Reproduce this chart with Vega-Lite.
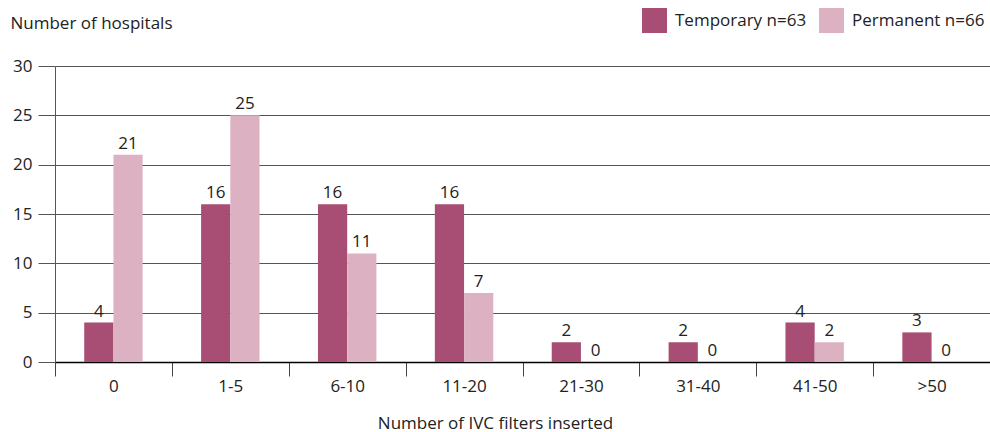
{
  "$schema": "https://vega.github.io/schema/vega-lite/v6.json",
  "width": 935,
  "height": 296,
  "autosize": {"type": "none"},
  "padding": {"left": 55, "top": 66, "right": 0, "bottom": 70},
  "background": "white",
  "config": {
    "font": "Open Sans",
    "view": {"stroke": null},
    "axis": {"labelFont": "Open Sans", "titleFont": "Open Sans", "labelColor": "#222", "titleColor": "#222", "labelFontSize": 17, "titleFontSize": 17, "titleFontWeight": "normal"}
  },
  "data": {
    "values": [
      {"cat": "0", "type": "Temporary n=63", "value": 4},
      {"cat": "0", "type": "Permanent n=66", "value": 21},
      {"cat": "1-5", "type": "Temporary n=63", "value": 16},
      {"cat": "1-5", "type": "Permanent n=66", "value": 25},
      {"cat": "6-10", "type": "Temporary n=63", "value": 16},
      {"cat": "6-10", "type": "Permanent n=66", "value": 11},
      {"cat": "11-20", "type": "Temporary n=63", "value": 16},
      {"cat": "11-20", "type": "Permanent n=66", "value": 7},
      {"cat": "21-30", "type": "Temporary n=63", "value": 2},
      {"cat": "21-30", "type": "Permanent n=66", "value": 0},
      {"cat": "31-40", "type": "Temporary n=63", "value": 2},
      {"cat": "31-40", "type": "Permanent n=66", "value": 0},
      {"cat": "41-50", "type": "Temporary n=63", "value": 4},
      {"cat": "41-50", "type": "Permanent n=66", "value": 2},
      {"cat": ">50", "type": "Temporary n=63", "value": 3},
      {"cat": ">50", "type": "Permanent n=66", "value": 0}
    ]
  },
  "encoding": {
    "x": {
      "field": "cat", "type": "nominal",
      "sort": ["0", "1-5", "6-10", "11-20", "21-30", "31-40", "41-50", ">50"],
      "scale": {"paddingInner": 0, "paddingOuter": 0},
      "axis": {
        "title": "Number of IVC filters inserted",
        "labelAngle": 0, "labelPadding": 2, "tickSize": 14, "tickBand": "extent",
        "tickColor": "#444", "domainColor": "#000", "domainWidth": 1.5,
        "titleBaseline": "alphabetic", "titleY": 66, "titleX": 440, "titleAnchor": "middle", "titleAlign": "center"
      }
    },
    "xOffset": {
      "field": "type", "type": "nominal",
      "sort": ["Temporary n=63", "Permanent n=66"],
      "scale": {"paddingInner": 0, "paddingOuter": 1.2}
    },
    "y": {
      "field": "value", "type": "quantitative",
      "scale": {"domain": [0, 30]},
      "axis": {
        "title": "Number of hospitals", "titleAngle": 0, "titleAlign": "left",
        "titleBaseline": "alphabetic", "titleX": -45, "titleY": -38,
        "values": [0, 5, 10, 15, 20, 25, 30], "tickSize": 17, "tickColor": "#555",
        "grid": true, "gridColor": "#555", "gridOpacity": 1, "domainColor": "#555",
        "labelPadding": 6
      }
    }
  },
  "layer": [
    {
      "mark": {"type": "bar"},
      "encoding": {
        "color": {
          "field": "type", "type": "nominal",
          "sort": ["Temporary n=63", "Permanent n=66"],
          "scale": {"domain": ["Temporary n=63", "Permanent n=66"], "range": ["#A84D73", "#DCB2C3"]},
          "legend": {
            "title": null, "orient": "none", "direction": "horizontal",
            "legendX": 587, "legendY": -58,
            "symbolType": "square", "symbolSize": 625, "symbolStrokeWidth": 0,
            "labelFontSize": 17, "labelColor": "#222", "labelFont": "Open Sans",
            "columnPadding": 12, "labelOffset": 8
          }
        }
      }
    },
    {
      "mark": {"type": "text", "baseline": "bottom", "dy": -2, "fontSize": 17, "color": "#222", "font": "Open Sans"},
      "encoding": {"text": {"field": "value", "type": "quantitative"}}
    }
  ]
}
